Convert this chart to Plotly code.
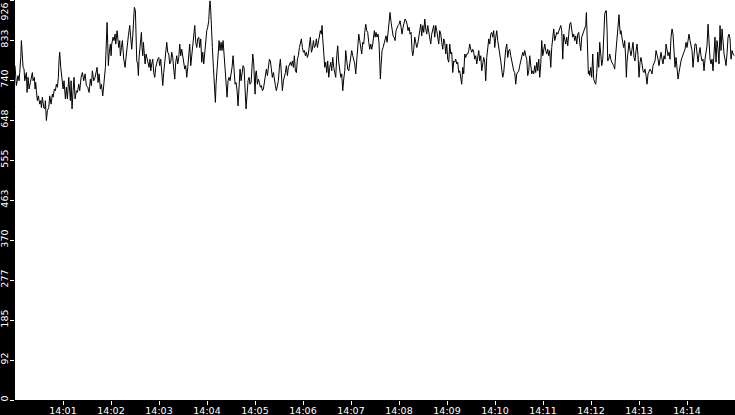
import pandas as pd
import plotly.graph_objects as go

# seconds after 14:00:00, and the reading at that moment
secs = [
    0.0, 1.7, 3.8, 5.1, 5.9, 6.7, 7.2, 8.0, 8.8, 10.1,
    11.3, 12.2, 14.2, 15.1, 16.3, 17.6, 19.2, 20.9, 21.7, 22.6,
    24.2, 25.1, 25.9, 26.7, 28.0, 29.2, 30.9, 32.2, 33.0, 34.2,
    35.9, 37.2, 38.0, 39.2, 40.5, 42.2, 43.4, 45.1, 46.7, 47.6,
    49.2, 50.5, 51.7, 53.0, 54.2, 55.1, 55.9, 57.2, 58.8, 60.1,
    61.3, 63.0, 64.2, 65.5, 67.2, 68.4, 69.2, 70.1, 71.3, 72.6,
    73.8, 75.1, 76.7, 78.0, 79.7, 80.9, 82.6, 84.2, 85.9, 87.6,
    89.2, 90.9, 92.6, 94.2, 95.5, 96.7, 98.4, 100.1, 102.6, 103.8,
    105.1, 106.7, 108.0, 109.7, 110.9, 111.7, 113.0, 113.8, 114.2, 115.1,
    115.9, 116.7, 117.6, 119.2, 120.1, 120.9, 122.6, 123.8, 125.1, 125.9,
    127.6, 128.8, 129.7, 130.9, 131.7, 133.0, 134.2, 135.9, 137.6, 138.8,
    140.5, 141.7, 143.4, 144.7, 145.9,
    147.2, 148.4, 149.2, 150.5, 151.3, 152.2, 153.4, 154.2, 155.1, 156.3,
    157.2, 158.0, 158.8, 159.7, 160.5, 161.7, 162.6, 163.8, 165.1, 166.3,
    167.6, 168.8, 169.7, 170.9, 172.2, 173.4, 174.7, 175.9, 177.2, 178.4,
    179.7, 180.9, 182.2, 183.4, 184.7, 185.9, 187.2, 188.4, 189.7, 190.9,
    192.2, 193.4, 194.7, 195.9, 197.2, 198.4, 199.7, 200.9, 202.2, 203.4,
    204.7, 205.9, 207.2, 208.4, 209.7, 210.9, 212.2, 213.4, 214.7, 215.9,
    217.2, 218.4, 219.7, 220.9, 222.2, 223.4, 224.7, 225.9, 227.2, 228.4,
    229.7, 230.9, 232.2, 233.4, 234.7, 235.9, 237.2, 238.4, 239.7, 240.9,
    242.2, 243.0, 243.8, 244.7, 245.5, 246.7, 248.0, 249.2, 250.5, 251.3,
    252.6, 253.8, 255.1, 256.3, 257.6, 258.8, 260.1, 261.3, 262.6, 263.8,
    265.1, 266.3, 267.6, 268.8, 270.1, 271.3, 272.6, 273.8, 275.1, 276.3,
    277.6, 278.8, 280.1, 281.3, 282.6, 283.8, 285.1, 286.3, 287.6, 288.8,
    290.1, 291.3, 292.6, 293.8, 295.1,
    295.9, 297.2, 298.4, 299.2, 300.1, 300.9, 301.7, 303.0, 304.2, 305.5,
    306.7, 308.0, 309.2, 310.5, 311.7, 313.0, 314.2, 315.5, 316.7, 318.0,
    319.2, 320.5, 321.7, 323.0, 324.2, 325.5, 326.7, 328.0, 329.2, 330.5,
    331.7, 333.0, 334.2, 335.5, 336.7, 338.0, 339.2, 340.5, 341.7, 343.0,
    344.2, 345.5, 346.7, 348.0, 349.2, 350.5, 351.7, 353.0, 354.2, 355.5,
    356.7, 358.0, 359.2, 360.5, 361.7, 363.0, 364.2, 365.5, 366.7, 368.0,
    369.2, 370.5, 371.7, 373.0, 374.2, 375.5, 376.7, 378.0, 379.2, 380.5,
    381.7, 383.0, 383.8, 384.7, 385.9, 387.2, 388.4, 389.7, 390.9, 392.2,
    393.4, 394.7, 395.9, 397.2, 398.4, 399.7, 400.9, 402.2, 403.4, 404.7,
    405.9, 407.2, 408.4, 409.7, 410.9, 412.2, 413.4, 414.7, 415.9, 417.2,
    418.4, 419.7, 420.9, 422.2, 423.4, 424.7, 425.9, 427.2, 428.4, 429.7,
    430.9, 432.2, 433.4, 434.7, 435.9, 437.2, 438.4, 439.7, 440.9, 442.2,
    443.4, 444.7, 445.9,
    447.2, 448.4, 449.2, 450.1, 451.3, 452.6, 453.8, 455.1, 455.9, 456.7,
    457.6, 458.8, 460.1, 461.3, 462.6, 463.8, 465.1, 466.3, 467.6, 468.8,
    470.1, 471.3, 472.6, 473.8, 475.1, 476.3, 477.6, 478.8, 480.1, 481.3,
    482.6, 483.8, 485.1, 486.3, 487.6, 488.8, 490.1, 491.3, 492.6, 493.8,
    495.1, 496.3, 497.2, 498.4, 499.7, 500.9, 502.2, 503.4, 504.7, 505.9,
    507.2, 508.4, 509.7, 510.9, 512.2, 513.4, 514.7, 515.9, 517.2, 518.4,
    519.7, 520.9, 522.2, 523.4, 524.7, 525.9, 527.2, 528.4, 529.7, 530.9,
    532.2, 533.4, 534.7, 535.9, 537.2, 538.4, 539.7, 540.9, 542.2, 543.4,
    544.7, 545.9, 547.2, 548.4, 549.7, 550.9, 552.2, 553.4, 554.7, 555.9,
    557.2, 558.4, 559.7, 560.9, 562.2, 563.4, 564.7, 565.9, 567.2, 568.4,
    569.7, 570.9, 572.2, 573.4, 574.7, 575.9, 577.2, 578.4, 579.7, 580.9,
    582.2, 583.4, 584.7, 585.9, 587.2, 588.4, 589.7, 590.9, 592.2, 593.4,
    594.7, 595.9,
    597.2, 598.4, 599.7, 600.9, 602.2, 603.4, 604.7, 605.9, 607.2, 608.4,
    609.7, 610.9, 612.2, 613.4, 614.7, 615.9, 617.2, 618.4, 619.7, 620.9,
    622.2, 623.4, 624.7, 625.9, 627.2, 628.4, 629.7, 630.9, 632.2, 633.4,
    634.7, 635.9, 637.2, 638.4, 639.7, 640.9, 642.2, 643.4, 644.7, 645.9,
    647.2, 648.4, 649.7, 650.9, 652.2, 653.4, 654.7, 655.9, 657.2, 658.4,
    659.7, 660.9, 662.2, 663.4, 664.7, 665.9, 667.2, 668.4, 669.7, 670.9,
    672.2, 673.4, 674.7, 675.9, 677.2, 678.4, 679.7, 680.9, 682.2, 683.4,
    684.7, 685.9, 687.2, 688.4, 689.7, 690.9, 692.2, 693.4, 694.7, 695.9,
    697.2, 698.4, 699.7, 700.9, 702.2, 703.4, 704.7, 705.9, 707.2, 708.4,
    709.7, 710.9, 712.2, 713.4, 714.2, 715.1, 715.9, 716.7, 717.6, 718.4,
    719.7, 720.9, 722.2, 723.4, 724.7, 725.9, 727.2, 728.4, 729.7, 730.9,
    732.2, 733.4, 734.7, 735.9, 737.2, 738.4, 739.2, 740.1, 740.9, 742.2,
    743.4, 744.7, 745.9,
    748.4, 749.6, 750.9, 752.1, 753.4, 754.2, 755.0, 755.9, 756.7, 757.5,
    758.4, 759.6, 760.9, 762.1, 763.4, 764.2, 765.0, 766.3, 767.5, 768.8,
    770.0, 771.3, 772.5, 773.8, 775.0, 776.3, 777.5, 778.8, 780.0, 781.3,
    782.5, 783.8, 785.0, 786.3, 787.5, 788.8, 790.0, 791.3, 792.5, 793.8,
    795.0, 796.3, 797.5, 798.8, 800.0, 801.3, 802.5, 803.8, 805.0, 806.3,
    807.5, 808.8, 810.0, 811.3, 812.5, 813.8, 815.0, 816.3, 817.5, 818.8,
    820.0, 821.3, 822.5, 823.8, 825.0, 826.3, 827.5, 828.8, 830.0, 831.3,
    832.5, 833.8, 835.0, 836.3, 837.5, 838.8, 840.0, 841.3, 842.5, 843.8,
    845.0, 846.3, 847.5, 848.8, 850.0, 851.3, 852.5, 853.8, 855.0, 856.3,
    857.5, 858.8, 860.0, 861.3, 862.5, 863.8, 865.0, 866.3, 867.5, 868.8,
    870.0, 871.3, 872.5, 873.8, 875.0, 876.3, 877.5, 878.8, 880.0, 881.3,
    882.5, 883.8, 885.0, 886.3, 887.5, 888.8, 890.0, 891.3, 892.5, 893.8,
    895.0, 896.3, 897.5, 898.8,
]

vals = [
    774, 728, 751, 739, 758, 774, 793, 832, 801, 770,
    766, 739, 758, 712, 747, 720, 735, 751, 758, 739,
    747, 720, 735, 716, 693, 704, 685, 693, 677, 701,
    677, 674, 693, 647, 670, 677, 704, 685, 708, 701,
    720, 716, 731, 724, 747, 789, 805, 770, 747, 720,
    739, 697, 724, 697, 747, 712, 693, 739, 674, 716,
    747, 697, 716, 712, 731, 716, 747, 758, 739, 755,
    728, 724, 712, 743, 728, 762, 739, 747, 770, 735,
    755, 720, 731, 704, 728, 751, 770, 809, 851, 874,
    824, 774, 801, 824, 797, 824, 840, 832, 847, 824,
    855, 832, 816, 832, 797, 816, 832, 789, 770, 793,
    828, 843, 867, 828, 812,
    843, 886, 909, 901, 847, 785, 778, 751, 793, 816,
    840, 851, 816, 797, 828, 805, 778, 801, 789, 785,
    770, 789, 762, 778, 789, 758, 747, 770, 785, 789,
    793, 774, 789, 758, 728, 758, 778, 801, 828, 805,
    801, 778, 782, 805, 793, 766, 743, 782, 797, 778,
    793, 824, 797, 812, 797, 785, 766, 774, 747, 770,
    809, 824, 774, 801, 824, 847, 867, 828, 816, 836,
    840, 816, 836, 782, 805, 778, 809, 816, 855, 863,
    878, 909, 924, 901, 855, 816, 770, 724, 689, 731,
    762, 801, 832, 809, 828, 809, 832, 801, 770, 724,
    701, 739, 747, 739, 751, 770, 797, 755, 731, 735,
    716, 681, 724, 766, 739, 758, 774, 770, 716, 674,
    708, 739, 747, 731, 735,
    758, 801, 778, 731, 708, 758, 762, 731, 743, 735,
    724, 728, 716, 720, 739, 758, 766, 751, 770, 789,
    785, 770, 747, 758, 739, 728, 716, 731, 739, 770,
    789, 755, 716, 739, 747, 758, 774, 751, 770, 778,
    782, 774, 785, 770, 797, 762, 758, 789, 797, 816,
    824, 836, 816, 805, 809, 797, 805, 793, 801, 820,
    840, 805, 812, 832, 816, 820, 836, 816, 828, 847,
    855, 847, 867, 836, 809, 770, 782, 758, 785, 747,
    770, 782, 762, 793, 770, 751, 747, 797, 820, 782,
    758, 747, 755, 716, 743, 762, 809, 778, 766, 762,
    778, 785, 809, 797, 789, 778, 755, 789, 828, 847,
    832, 816, 801, 828, 824, 851, 870, 855, 851, 828,
    812, 824, 812,
    824, 840, 855, 840, 851, 840, 847, 824, 782, 743,
    774, 809, 816, 824, 832, 843, 828, 847, 867, 897,
    874, 859, 843, 840, 832, 855, 863, 867, 870, 878,
    863, 847, 863, 874, 882, 878, 870, 855, 863, 847,
    851, 809, 797, 812, 840, 828, 816, 824, 840, 851,
    870, 843, 867, 851, 882, 859, 847, 867, 851, 840,
    824, 847, 863, 867, 840, 867, 855, 836, 824, 855,
    847, 828, 812, 836, 828, 801, 824, 789, 782, 824,
    801, 805, 758, 785, 782, 789, 778, 782, 758, 762,
    739, 731, 770, 755, 801, 793, 801, 801, 809, 824,
    812, 805, 812, 805, 789, 797, 778, 797, 809, 785,
    797, 762, 774, 793, 782, 739, 793, 820, 836, 824,
    847, 851,
    840, 855, 816, 840, 855, 832, 816, 809, 785, 766,
    747, 758, 789, 812, 824, 793, 809, 812, 797, 782,
    770, 762, 758, 731, 755, 758, 762, 774, 785, 797,
    805, 797, 809, 797, 789, 751, 762, 797, 770, 755,
    762, 755, 774, 758, 782, 762, 789, 747, 778, 832,
    797, 816, 824, 809, 801, 812, 797, 809, 770, 816,
    843, 859, 832, 840, 851, 847, 855, 863, 867, 855,
    789, 847, 828, 824, 840, 820, 847, 870, 874, 851,
    840, 847, 832, 843, 824, 847, 851, 828, 809, 840,
    847, 851, 859, 867, 897, 855, 793, 755, 762, 751,
    770, 747, 801, 743, 735, 731, 758, 805, 770, 828,
    801, 774, 789, 832, 894, 901, 901, 855, 785, 789,
    801, 789, 782,
    774, 766, 801, 828, 851, 867, 892, 863, 847, 855,
    840, 828, 816, 832, 789, 747, 782, 812, 828, 809,
    797, 812, 828, 793, 785, 809, 824, 797, 747, 782,
    793, 778, 762, 758, 766, 751, 731, 755, 762, 766,
    762, 755, 774, 778, 785, 809, 801, 789, 774, 797,
    805, 789, 778, 797, 789, 824, 809, 797, 805, 789,
    840, 859, 847, 809, 770, 793, 762, 743, 758, 774,
    785, 793, 801, 809, 812, 828, 816, 832, 847, 832,
    820, 809, 770, 801, 824, 824, 809, 782, 801, 816,
    797, 785, 789, 762, 789, 805, 820, 870, 816, 789,
    778, 789, 762, 797, 840, 782, 832, 812, 778, 867,
    809, 859, 824, 801, 789, 774, 801, 840, 847, 836,
    789, 809, 801, 797,
]

y_ticks = [0, 92.6, 185.2, 277.8, 370.4, 463.0, 555.6, 648.2, 740.8, 833.4, 926.0]
y_labels = ["0", "92", "185", "277", "370", "463", "555", "648", "740", "833", "926"]
x_labels = ["14:01", "14:02", "14:03", "14:04", "14:05", "14:06", "14:07",
            "14:08", "14:09", "14:10", "14:11", "14:12", "14:13", "14:14"]

day = "2024-01-01 "
start = pd.Timestamp(day + "14:00:00")
times = start + pd.to_timedelta(secs, unit="s")

fig = go.Figure()
fig.add_trace(go.Scatter(x=times, y=vals, mode="lines",
                         line=dict(color="black", width=1), hoverinfo="skip"))

fig.update_layout(
    width=735, height=415,
    margin=dict(l=15, r=0, t=0, b=15),
    paper_bgcolor="black", plot_bgcolor="white",
    showlegend=False,
    font=dict(family="DejaVu Sans", size=9.5, color="white"),
)

fig.update_xaxes(
    type="date",
    range=[start, pd.Timestamp(day + "14:15:00")],
    tickvals=[pd.Timestamp(day + s) for s in x_labels],
    ticktext=x_labels,
    ticks="outside", ticklen=4, tickcolor="white", tickwidth=1,
    ticklabelstandoff=-2,
    showgrid=False, zeroline=False, showline=False, automargin=False,
)

# the top label would be cut off at the edge, so it sits below its tick
fig.update_yaxes(
    range=[0, 926],
    tickvals=y_ticks,
    ticktext=y_labels[:-1] + [""],
    tickangle=-90,
    ticks="outside", ticklen=4, tickcolor="white", tickwidth=1,
    ticklabelstandoff=-2,
    showgrid=False, zeroline=False, showline=False, automargin=False,
)
fig.add_annotation(text=y_labels[-1], xref="paper", yref="paper", x=0, y=1,
                   xanchor="right", yanchor="top", xshift=-4, textangle=-90,
                   showarrow=False, font=dict(size=9.5, color="white"))

# drop the page's default body margin so the chart fills the window
fig.write_html("out.html", config={"displayModeBar": False},
               post_script="document.body.style.margin='0';")
